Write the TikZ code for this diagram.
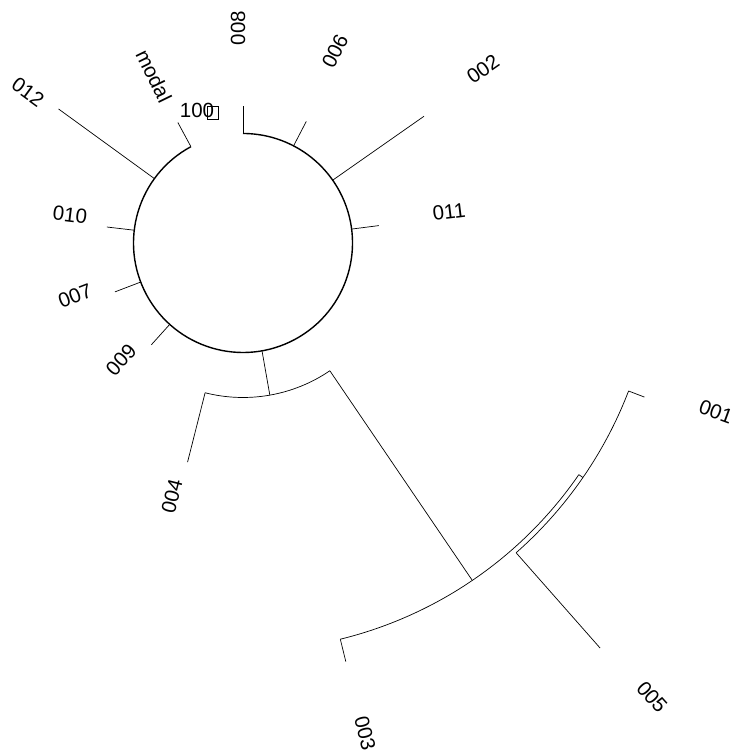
\documentclass[tikz,border=0pt]{standalone}
\usepackage{fontspec}
\setmainfont{Liberation Sans}

\begin{document}
\begin{tikzpicture}[x=1pt, y=1pt,
  branch/.style={black, line width=0.7pt},
  ring/.style={black, line width=1.4pt},
  lbl/.style={font=\fontsize{20.5}{20.5}\selectfont, inner sep=0pt}]
  \useasboundingbox (0,0) rectangle (731,754);

  \begin{scope}[shift={(243,511)}]
  % inner ring with its short leaves
  \draw[ring] (118.4:109.5) arc[start angle=118.4, end angle=450, radius=109.5];
  \foreach \a/\n in {90/008, 62.5/006, 7.3/011, 173.3/010, 200.9/007, 228/009, 118.4/modal}
    {\coordinate (b\n) at (\a:109.5);
     \coordinate (t\n) at (\a:137);
     \draw[branch] (b\n) -- (t\n);}
  % long leaves on the ring
  \coordinate (b002) at (35:109.5);   \coordinate (t002) at (35:221);
  \coordinate (b012) at (144:109.5);  \coordinate (t012) at (144:228);
  \draw[branch] (b002) -- (t002);
  \draw[branch] (b012) -- (t012);

  % stem down to the first split
  \coordinate (rin) at (-80:109.5);
  \coordinate (rout) at (-80:154.5);
  \draw[branch] (rin) -- (rout);
  \coordinate (z004) at (255.8:154.5);
  \coordinate (zx) at (304.2:154.5);
  \draw[branch] (z004) arc[start angle=255.8, end angle=304.2, radius=154.5];
  \coordinate (t004) at (255.8:226);
  \draw[branch] (z004) -- (t004);

  % outer split
  \coordinate (x) at (-55.8:408);
  \draw[branch] (zx) -- (x);
  \coordinate (x003) at (-76.2:408);
  \coordinate (xy) at (-34.6:408);
  \draw[branch] (x003) arc[start angle=-76.2, end angle=-34.6, radius=408];
  \coordinate (t003) at (-76.2:431);
  \draw[branch] (x003) -- (t003);
  \coordinate (y) at (-34.6:413);
  \draw[branch] (xy) -- (y);
  \coordinate (y005) at (-48.6:413);
  \coordinate (y001) at (-21:413);
  \draw[branch] (y005) arc[start angle=-48.6, end angle=-21, radius=413];
  \coordinate (t005) at (-48.6:540);
  \coordinate (t001) at (-21:430);
  \draw[branch] (y005) -- (t005);
  \draw[branch] (y001) -- (t001);
  \end{scope}

  % labels
  \node[lbl, rotate=90]  (l008) at (238,726) {008};
  \node[lbl, rotate=63]  (l006) at (335,703) {006};
  \node[lbl, rotate=35]  (l002) at (483,685) {002};
  \node[lbl, rotate=7]   (l011) at (449,542) {011};
  \node[lbl, rotate=-7]  (l010) at (70,539) {010};
  \node[lbl, rotate=21]  (l007) at (75,458) {007};
  \node[lbl, rotate=48]  (l009) at (121,394) {009};
  \node[lbl, rotate=-36] (l012) at (28,662) {012};
  \node[lbl, rotate=-64] (lmodal) at (154,678) {modal};
  \node[lbl] (l100) at (197,644) {100};
  \node[draw, line width=0.8pt, minimum width=11pt, minimum height=13pt, inner sep=0pt] (lbox) at (212.5,641.5) {};
  \node[lbl, rotate=76]  (l004) at (172,258) {004};
  \node[lbl, rotate=-76] (l003) at (365,21) {003};
  \node[lbl, rotate=-48] (l005) at (652,57) {005};
  \node[lbl, rotate=-20] (l001) at (716,342) {001};
\end{tikzpicture}
\end{document}
